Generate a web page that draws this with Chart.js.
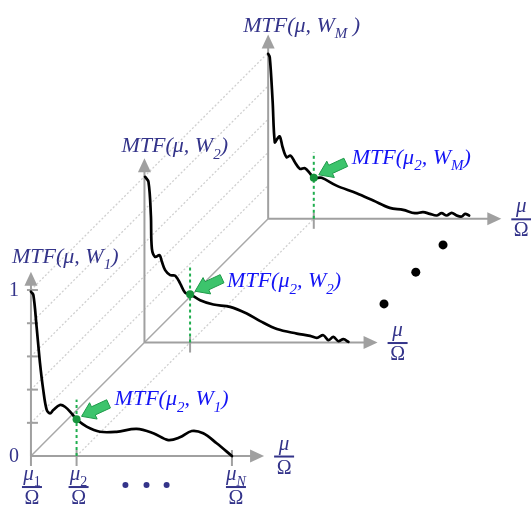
<!DOCTYPE html>
<html><head><meta charset="utf-8">
<script src="https://cdn.jsdelivr.net/npm/chart.js@4"></script>
<style>html,body{margin:0;padding:0;background:#fff}#wrap{width:531px;height:506px;position:relative}</style>
</head><body><div id="wrap"><canvas id="c"></canvas></div>
<script>
// ---- data (mu normalised so mu_N = 1; MTF in 0..1) ----
const MU_W1  = [0,0.012,0.028,0.045,0.061,0.078,0.095,0.111,0.144,0.169,0.202,0.227,0.277,0.343,0.426,0.526,0.609,0.683,0.741,0.8,0.857,0.924,1.0];
const MTF_W1 = [0.99,0.97,0.78,0.56,0.40,0.28,0.257,0.277,0.307,0.297,0.257,0.221,0.177,0.146,0.146,0.163,0.137,0.096,0.113,0.151,0.137,0.077,0.0];
const MU_W2  = [0.003,0.02,0.032,0.037,0.053,0.075,0.087,0.103,0.128,0.153,0.178,0.202,0.227,0.277,0.343,0.426,0.509,0.576,0.659,0.758,0.824,0.858,0.89,0.915,0.94,0.965,0.99,1.015];
const MTF_W2 = [0.998,0.968,0.767,0.566,0.516,0.526,0.486,0.436,0.406,0.402,0.355,0.301,0.291,0.255,0.229,0.215,0.175,0.129,0.081,0.054,0.04,0.028,0.044,0.014,0.034,0.008,0.02,0.004];
const MU_WM  = [0,0.008,0.022,0.033,0.045,0.058,0.072,0.092,0.111,0.133,0.158,0.183,0.207,0.227,0.266,0.34,0.44,0.523,0.605,0.672,0.73,0.771,0.804,0.838,0.863,0.888,0.913,0.938,0.963,0.98,1.0];
const MTF_WM = [0.994,0.973,0.713,0.461,0.482,0.496,0.431,0.371,0.381,0.341,0.301,0.305,0.275,0.247,0.247,0.2,0.154,0.11,0.066,0.054,0.034,0.04,0.03,0.02,0.034,0.02,0.036,0.02,0.014,0.03,0.02];
const W_SUBS = ['1','2','M'];
const W_DEPTH = [0, 1, 2.09];             // position of each W slice along the depth axis
const Y_TICKS = [0.2,0.4,0.6,0.8,1.0];
const MU_2 = 0.227, MU_N = 1;
const MTF_AT_MU2 = [0.221, 0.291, 0.247];
const DASH_TOP = [0.34, 0.47, 0.40];
const ELLIPSIS_DEPTH = [1.34, 1.62, 1.86];

// ---- projection / layout ----
const DXW = 0.5647, DYW = 0.6837;   // oblique depth vector in (mu, MTF) units
const X_MIN=-0.154, X_MAX=2.488, Y_MIN=-0.301, Y_MAX=2.747;
const X_AXIS_END = 1.16, Y_AXIS_END = 1.11;
const P = (i, mu, v) => ({x: mu + W_DEPTH[i]*DXW, y: v + W_DEPTH[i]*DYW});
const PD = (d, mu, v) => ({x: mu + d*DXW, y: v + d*DYW});

const CURVES = [[MU_W1,MTF_W1],[MU_W2,MTF_W2],[MU_WM,MTF_WM]];
const datasets = [];
CURVES.forEach(([mu,v],i)=>{
  datasets.push({data: mu.map((m,k)=>P(i,m,v[k])), showLine:true, borderColor:'#000', borderWidth:2.7,
    pointRadius:0, tension:0.35, borderJoinStyle:'round', borderCapStyle:'round', order:3});
  datasets.push({data:[P(i,MU_2,0),P(i,MU_2,DASH_TOP[i])], showLine:true, borderColor:'#1fae4e', borderWidth:2,
    borderDash:[3,3], pointRadius:0, order:2});
});
datasets.push({data: MTF_AT_MU2.map((v,i)=>P(i,MU_2,v)), pointRadius:4, pointBackgroundColor:'#17933d', pointBorderWidth:0, showLine:false, order:1});
datasets.push({data: ELLIPSIS_DEPTH.map(d=>PD(d,MU_N,0)), pointRadius:4.5, pointBackgroundColor:'#000', pointBorderWidth:0, showLine:false, order:1});

const FAM = '"Liberation Serif","DejaVu Serif",serif';
const NAVY = '#34348a', BLUE = '#1414f5';
function rich(ctx, x, y, parts, size, color, align){
  const f = k => (k.includes('i')?'italic ':'') + (k[0]==='s'? Math.round(size*0.68): size) + 'px ' + FAM;
  let w=0; for(const [t,k] of parts){ctx.font=f(k); w+=ctx.measureText(t).width;}
  let cx = align==='center'? x-w/2 : x;
  ctx.fillStyle=color; ctx.textBaseline='alphabetic'; ctx.textAlign='left';
  for(const [t,k] of parts){ctx.font=f(k); ctx.fillText(t, cx, y + (k[0]==='s'? size*0.3:0)); cx+=ctx.measureText(t).width;}
}
function frac(ctx, cx, barY, top, sub, subKind){
  const parts=[['μ','i']]; if(sub) parts.push([sub,subKind]);
  rich(ctx, cx, barY-7, parts, 21, NAVY, 'center');
  ctx.fillStyle=NAVY; ctx.fillRect(cx-10, barY-1, 20, 2);
  rich(ctx, cx, barY+17, [['Ω','r']], 20, NAVY, 'center');
}

const diagram = {
  id:'diagram',
  beforeDatasetsDraw(chart){
    const ctx=chart.ctx, xs=chart.scales.x, ys=chart.scales.y;
    const px = p => [xs.getPixelForValue(p.x), ys.getPixelForValue(p.y)];
    const line=(a,b)=>{ctx.beginPath();ctx.moveTo(...a);ctx.lineTo(...b);ctx.stroke();};
    ctx.save();
    // dotted depth guides
    ctx.strokeStyle='#d0d0d0'; ctx.lineWidth=1.3; ctx.setLineDash([2,2]);
    Y_TICKS.forEach(v=>line(px(P(0,0,v)),px(P(2,0,v))));
    line(px(P(0,MU_2,0)),px(P(2,MU_2,0)));
    ctx.setLineDash([]);
    ctx.strokeStyle='#a8a8a8'; ctx.lineWidth=1.5;
    line(px(P(0,0,0)),px(P(2,0,0)));
    // axes
    ctx.strokeStyle='#a0a0a0'; ctx.fillStyle='#a0a0a0'; ctx.lineWidth=2;
    const arrow=(a,b)=>{
      const dx=b[0]-a[0], dy=b[1]-a[1], L=Math.hypot(dx,dy), ux=dx/L, uy=dy/L;
      line(a,[b[0]-ux*10,b[1]-uy*10]);
      ctx.beginPath(); ctx.moveTo(b[0],b[1]);
      ctx.lineTo(b[0]-ux*14-uy*6.5, b[1]-uy*14+ux*6.5);
      ctx.lineTo(b[0]-ux*14+uy*6.5, b[1]-uy*14-ux*6.5); ctx.closePath(); ctx.fill();
    };
    for(let i=0;i<3;i++){
      arrow(px(P(i,0,0)),px(P(i,X_AXIS_END,0)));
      arrow(px(P(i,0,0)),px(P(i,0,Y_AXIS_END)));
      const t=px(P(i,MU_2,0)); line([t[0],t[1]-6],[t[0],t[1]+10]);
    }
    [0,MU_N].forEach(m=>{const t=px(P(0,m,0)); line([t[0],t[1]-6],[t[0],t[1]+10]);});
    Y_TICKS.forEach(v=>{const t=px(P(0,0,v)); line([t[0]-4,t[1]],[t[0]+7,t[1]]);});
    ctx.restore();
  },
  afterDatasetsDraw(chart){
    const ctx=chart.ctx, xs=chart.scales.x, ys=chart.scales.y;
    const px = p => [xs.getPixelForValue(p.x), ys.getPixelForValue(p.y)];
    ctx.save();
    // green block arrows + labels
    const LBL_OFF=[[38,-14],[37,-7],[38,-14]];
    MTF_AT_MU2.forEach((v,i)=>{
      const p=px(P(i,MU_2,v));
      const tip=[p[0]+5,p[1]-3], tail=[tip[0]+27,tip[1]-12.5];
      const dx=tail[0]-tip[0], dy=tail[1]-tip[1], L=Math.hypot(dx,dy), ux=dx/L, uy=dy/L, nx=-uy, ny=ux;
      const H=13, HW=9, SW=4.5, hb=[tip[0]+ux*H, tip[1]+uy*H];
      ctx.beginPath(); ctx.moveTo(...tip);
      ctx.lineTo(hb[0]+nx*HW,hb[1]+ny*HW); ctx.lineTo(hb[0]+nx*SW,hb[1]+ny*SW);
      ctx.lineTo(tail[0]+nx*SW,tail[1]+ny*SW); ctx.lineTo(tail[0]-nx*SW,tail[1]-ny*SW);
      ctx.lineTo(hb[0]-nx*SW,hb[1]-ny*SW); ctx.lineTo(hb[0]-nx*HW,hb[1]-ny*HW); ctx.closePath();
      ctx.fillStyle='#3cc46c'; ctx.fill(); ctx.strokeStyle='#1f9a4a'; ctx.lineWidth=1; ctx.stroke();
      rich(ctx, p[0]+LBL_OFF[i][0], p[1]+LBL_OFF[i][1],
        [['MTF(','i'],['μ','i'],['2','si'],[', W','i'],[W_SUBS[i],'si'],[')','i']], 22, BLUE, 'left');
    });
    // axis titles
    const TTL_OFF=[[-19,-9],[-23,-6],[-25,-3]];
    for(let i=0;i<3;i++){
      const t=px(P(i,0,Y_AXIS_END));
      rich(ctx, t[0]+TTL_OFF[i][0], t[1]+TTL_OFF[i][1],
        [['MTF(','i'],['μ','i'],[', W','i'],[W_SUBS[i],'si'],[i===2?' )':')','i']], 22, NAVY, 'left');
      const e=px(P(i,X_AXIS_END,0));
      frac(ctx, e[0]+20, e[1]+0.5, 'μ', null);
    }
    // value labels
    ctx.font='20px '+FAM; ctx.fillStyle=NAVY; ctx.textAlign='center'; ctx.textBaseline='middle';
    [0,1].forEach(v=>{const t=px(P(0,0,v)); ctx.fillText(String(v), t[0]-17, t[1]+1);});
    // bottom fractions
    const b1=px(P(0,0,0)), b2=px(P(0,MU_2,0)), bN=px(P(0,MU_N,0));
    frac(ctx, b1[0]+1, b1[1]+31, 'μ', '1', 'sr');
    frac(ctx, b2[0]+2, b2[1]+31, 'μ', '2', 'sr');
    frac(ctx, bN[0]+4, bN[1]+31, 'μ', 'N', 'si');
    ctx.fillStyle=NAVY;
    [0.47,0.575,0.675].forEach(m=>{const q=px(P(0,m,0)); ctx.beginPath(); ctx.arc(q[0], q[1]+29, 3, 0, Math.PI*2); ctx.fill();});
    ctx.restore();
  }
};

new Chart(document.getElementById('c'), {
  type:'scatter',
  data:{datasets},
  options:{responsive:true, maintainAspectRatio:false, animation:false, events:[],
    layout:{padding:0, autoPadding:false},
    plugins:{legend:{display:false}, tooltip:{enabled:false}},
    scales:{x:{type:'linear',min:X_MIN,max:X_MAX,display:false}, y:{type:'linear',min:Y_MIN,max:Y_MAX,display:false}}},
  plugins:[diagram]
});
</script></body></html>
